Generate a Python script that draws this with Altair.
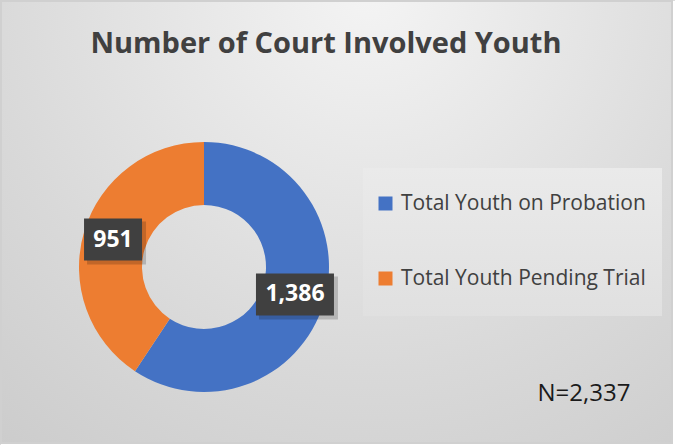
import altair as alt
import pandas as pd

categories = ["Total Youth on Probation", "Total Youth Pending Trial"]
values = [1386, 951]
labels = ["1,386", "951"]
colors = ["#4472C4", "#ED7D31"]
title_text = "Number of Court Involved Youth"
note_text = "N=2,337"

W, H = 675, 445
CX, CY = 204, 267
R_OUT, R_IN, R_LAB = 125, 62, 95

df = pd.DataFrame({"category": categories, "value": values, "label": labels,
                   "order": list(range(len(categories)))})
one = alt.Data(values=[{"a": 1}])

bg = alt.Chart(one).mark_rect(
    fill=alt.Gradient(gradient="radial", x1=0.55, y1=0.15, r1=0, x2=0.55, y2=0.15, r2=0.95,
                      stops=[alt.GradientStop(color="#f4f4f4", offset=0),
                             alt.GradientStop(color="#d9d9d9", offset=0.6),
                             alt.GradientStop(color="#c9c9c9", offset=1)]),
    stroke="#d0d0d0", strokeWidth=2
).encode(x=alt.value(1), x2=alt.value(W - 3), y=alt.value(1), y2=alt.value(H - 2))

legend_box = alt.Chart(one).mark_rect(
    fill=alt.Gradient(gradient="linear", x1=0, y1=0, x2=0, y2=1,
                      stops=[alt.GradientStop(color="#eaeaea", offset=0),
                             alt.GradientStop(color="#e0e0e0", offset=1)])
).encode(x=alt.value(363), x2=alt.value(662), y=alt.value(168), y2=alt.value(316))

title = alt.Chart(one).mark_text(
    text=title_text, font="Open Sans", fontWeight="bold", fontSize=29, color="#404040",
    align="center", baseline="middle"
).encode(x=alt.value(326), y=alt.value(44))

note = alt.Chart(one).mark_text(
    text=note_text, font="Open Sans", fontSize=24, color="#1a1a1a",
    align="center", baseline="middle"
).encode(x=alt.value(584), y=alt.value(394))

color_scale = alt.Scale(domain=categories, range=colors)

arcs = alt.Chart(df).mark_arc(innerRadius=R_IN, outerRadius=R_OUT).encode(
    theta=alt.Theta("value:Q", stack=True),
    order=alt.Order("order:Q"),
    color=alt.Color("category:N", scale=color_scale, legend=alt.Legend(
        title=None, orient="none", legendX=375, legendY=193, symbolType="square",
        symbolSize=196, symbolStrokeWidth=0, labelFont="Open Sans", labelFontSize=21,
        labelColor="#404040", labelOffset=5, rowPadding=53, labelLimit=400, direction="vertical")),
    x=alt.value(CX), y=alt.value(CY)
)

pos = alt.Chart(df).transform_joinaggregate(
    total="sum(value)"
).transform_window(
    cum="sum(value)", sort=[alt.SortField("order")]
).transform_calculate(
    mid="(datum.cum - datum.value/2) / datum.total * 2 * PI",
).transform_calculate(
    lx=f"{CX} + {R_LAB} * sin(datum.mid)",
    ly=f"{CY} - {R_LAB} * cos(datum.mid)",
    bw="length(datum.label) * 10 + 28",
).transform_calculate(
    x1="datum.lx - datum.bw/2", x2="datum.lx + datum.bw/2",
    y1="datum.ly - 21", y2="datum.ly + 21",
    sx1="datum.lx - datum.bw/2 + 3", sx2="datum.lx + datum.bw/2 + 4",
    sy1="datum.ly - 21 + 3", sy2="datum.ly + 21 + 4",
)

shadow = pos.mark_rect(color="#000000", opacity=0.18).encode(
    x=alt.X("sx1:Q", scale=None), x2="sx2:Q",
    y=alt.Y("sy1:Q", scale=None), y2="sy2:Q")

box = pos.mark_rect(color="#404040").encode(
    x=alt.X("x1:Q", scale=None), x2="x2:Q",
    y=alt.Y("y1:Q", scale=None), y2="y2:Q")

txt = pos.mark_text(font="Open Sans", fontWeight="bold", fontSize=23, color="#ffffff",
                    align="center", baseline="middle").encode(
    x=alt.X("lx:Q", scale=None), y=alt.Y("ly:Q", scale=None), text="label:N")

chart = alt.layer(bg, legend_box, title, note, arcs, shadow, box, txt).properties(
    width=W, height=H, padding=0, autosize=alt.AutoSizeParams(type="none")
).configure_view(stroke=None).configure(background="#ffffff")

chart.save("out.html", embed_options={"renderer": "svg", "actions": False})
